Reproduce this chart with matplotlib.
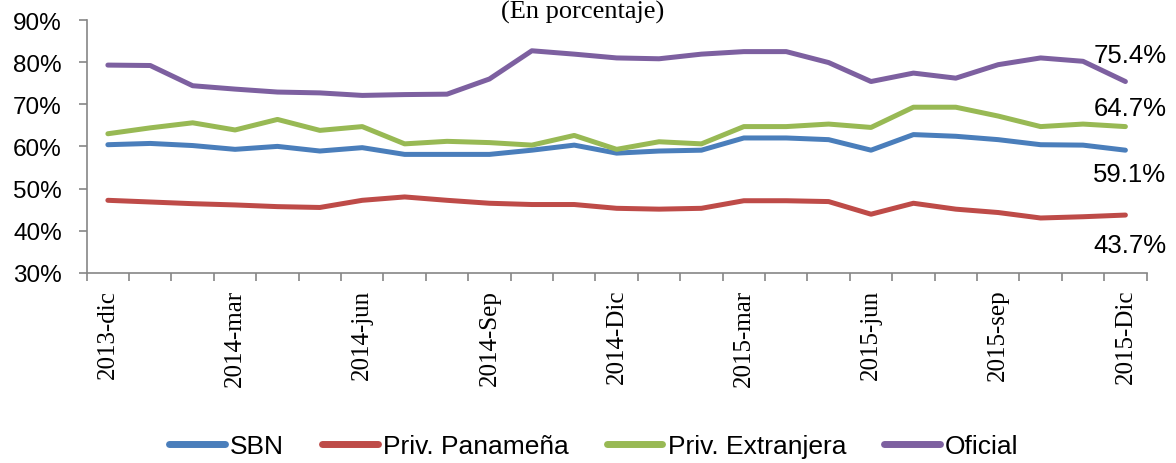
import matplotlib
matplotlib.use("Agg")
import matplotlib.pyplot as plt
import numpy as np

# monthly series, Dec 2013 .. Dec 2015
months = ["2013-dic", "", "", "2014-mar", "", "", "2014-jun", "", "", "2014-Sep", "", "",
          "2014-Dic", "", "", "2015-mar", "", "", "2015-jun", "", "", "2015-sep", "", "",
          "2015-Dic"]
sbn = [60.4, 60.7, 60.2, 59.3, 60.0, 58.9, 59.7, 58.1, 58.1, 58.1, 59.1, 60.3,
       58.4, 58.9, 59.1, 62.0, 62.0, 61.6, 59.1, 62.8, 62.4, 61.6, 60.4, 60.3, 59.1]
priv_pan = [47.2, 46.8, 46.4, 46.1, 45.7, 45.5, 47.2, 48.0, 47.2, 46.5, 46.2, 46.2,
            45.3, 45.1, 45.3, 47.1, 47.1, 46.9, 43.9, 46.5, 45.1, 44.3, 43.0, 43.3, 43.7]
priv_ext = [63.0, 64.4, 65.6, 63.9, 66.4, 63.8, 64.7, 60.6, 61.2, 60.9, 60.3, 62.6,
            59.3, 61.1, 60.6, 64.7, 64.7, 65.3, 64.5, 69.3, 69.3, 67.2, 64.7, 65.3, 64.7]
oficial = [79.3, 79.2, 74.4, 73.6, 72.9, 72.7, 72.1, 72.3, 72.4, 76.0, 82.7, 81.9,
           81.0, 80.8, 81.9, 82.5, 82.5, 79.9, 75.4, 77.4, 76.2, 79.4, 81.0, 80.2, 75.4]

series = [("SBN", sbn, "#4A7EBB", 24),
          ("Priv. Panameña", priv_pan, "#BE4B48", 30),
          ("Priv. Extranjera", priv_ext, "#98B954", -19),
          ("Oficial", oficial, "#7D60A0", -27)]

sans = "Liberation Sans"
serif = "Liberation Serif"

fig = plt.figure(figsize=(11.76, 4.64), dpi=100)
ax = fig.add_axes([0.0737, 0.410, 0.9013, 0.5447])

x = np.arange(len(months))
for name, vals, col, dy in series:
    ax.plot(x, vals, color=col, lw=3.6, solid_capstyle="round", label=name)
    # value label next to the last point (dy in pixels, positive = below)
    ax.annotate(f"{vals[-1]:.1f}%", (x[-1], vals[-1]),
                xytext=(-32 * 0.72, -dy * 0.72), textcoords="offset points",
                ha="left", va="center", fontsize=18.5, family=sans)

ax.set_xlim(-0.5, len(months) - 0.5)
ax.set_ylim(30, 90)
ax.set_yticks(np.arange(30, 91, 10))
ax.set_yticklabels([f"{v}%" for v in range(30, 91, 10)], fontsize=17.5, family=sans)

ax.set_xticks(x[::3])
ax.set_xticklabels(months[::3], rotation=90, fontsize=18, family=serif, va="top")
ax.set_xticks(np.arange(-0.5, len(months)), minor=True)
ax.tick_params(axis="x", which="major", length=0, pad=11.5)
ax.tick_params(axis="x", which="minor", length=5.8, width=1.2, color="#868686")
ax.tick_params(axis="y", length=5.8, width=1.2, color="#868686", pad=12)

for side in ("top", "right"):
    ax.spines[side].set_visible(False)
for side in ("left", "bottom"):
    ax.spines[side].set_color("#868686")
    ax.spines[side].set_linewidth(1.2)

fig.text(583 / 1176, 1 - 1 / 464, "(En porcentaje)", ha="center", va="top",
         fontsize=19, family=serif)

leg = fig.legend(loc="center", bbox_to_anchor=(0.505, 0.037), ncol=4, frameon=False,
                 prop={"family": sans, "size": 19}, handlelength=2.1,
                 handletextpad=0.2, columnspacing=1.45)
for h in leg.get_lines():
    h.set_linewidth(5)

fig.savefig("out.png", dpi=100)
